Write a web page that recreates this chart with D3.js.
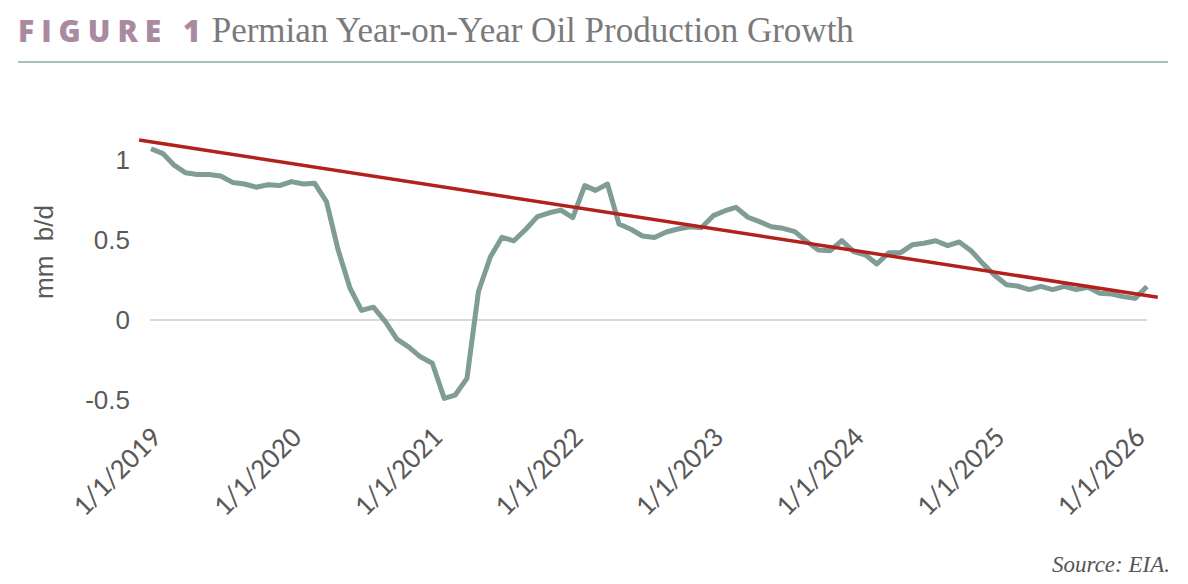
<!DOCTYPE html>
<html>
<head>
<meta charset="utf-8">
<script src="https://cdn.jsdelivr.net/npm/d3@7"></script>
<style>
  body { margin: 0; background: #fff; }
  svg { display: block; }
</style>
</head>
<body>
<div id="chart"></div>
<script>
// monthly, Jan 2019 .. Feb 2026 (mm b/d, year-on-year change)
const startMonth = [2019, 0]
const growth = [
  1.07, 1.04, 0.97, 0.92, 0.91, 0.91, 0.90, 0.86, 0.85, 0.83, 0.845, 0.84,
  0.865, 0.85, 0.855, 0.74, 0.44, 0.20, 0.06, 0.08, -0.01, -0.12, -0.17, -0.23,
  -0.27, -0.49, -0.47, -0.365, 0.18, 0.395, 0.517, 0.495, 0.567, 0.646, 0.67, 0.687,
  0.64, 0.84, 0.81, 0.85, 0.60, 0.567, 0.525, 0.515, 0.55, 0.569, 0.583, 0.577,
  0.652, 0.683, 0.704, 0.642, 0.615, 0.583, 0.573, 0.552, 0.49, 0.4375, 0.433, 0.496,
  0.427, 0.406, 0.35, 0.42, 0.42, 0.47, 0.48, 0.495, 0.465, 0.4875, 0.433, 0.354,
  0.28, 0.22, 0.2125, 0.19, 0.21, 0.19, 0.21, 0.19, 0.205, 0.167, 0.1625, 0.146,
  0.135, 0.21
]
// linear trend line end points
const trendDates = ["2018-12-01", "2026-03-01"]
const trendValues = [1.125, 0.142]

const yTicks = [-0.5, 0, 0.5, 1]
const xTickYears = [2019, 2020, 2021, 2022, 2023, 2024, 2025, 2026]

const width = 1188
const height = 584

const data = growth.map((v, i) => ({
  date: new Date(Date.UTC(startMonth[0], startMonth[1] + i, 1)),
  value: v
}))
const trend = trendDates.map((d, i) => ({ date: new Date(d + "T00:00:00Z"), value: trendValues[i] }))

const svg = d3.select("#chart")
  .append("svg")
  .attr("width", width)
  .attr("height", height)

// title
const title = svg.append("text")
  .attr("x", 18)
  .attr("y", 42)
title.append("tspan")
  .text("FIGURE 1")
  .style("font-family", "'Open Sans', sans-serif")
  .style("font-weight", 800)
  .style("font-size", "30px")
  .style("letter-spacing", "7px")
  .style("fill", "#a98ba1")
title.append("tspan")
  .attr("dx", 4)
  .text("Permian Year-on-Year Oil Production Growth")
  .style("font-family", "'Liberation Serif', serif")
  .style("font-size", "35px")
  .style("fill", "#7a7a7a")

svg.append("line")
  .attr("x1", 18).attr("x2", 1168)
  .attr("y1", 62).attr("y2", 62)
  .attr("stroke", "#8aaba8")
  .attr("stroke-width", 1.5)

// scales
const x = d3.scaleUtc()
  .domain([data[0].date, data[data.length - 1].date])
  .range([151, 1147])

const y = d3.scaleLinear()
  .domain([-0.5, 1])
  .range([400, 160])

// zero line
svg.append("line")
  .attr("x1", x.range()[0] - 1).attr("x2", x.range()[1])
  .attr("y1", y(0)).attr("y2", y(0))
  .attr("stroke", "#d9d9d9")
  .attr("stroke-width", 2)

// y axis labels
const yAxis = svg.append("g")
  .attr("transform", "translate(130,0)")
  .call(d3.axisLeft(y).tickValues(yTicks).tickSize(0).tickPadding(0)
    .tickFormat(d => String(d)))
yAxis.select(".domain").remove()
yAxis.selectAll("text")
  .style("font-family", "'Liberation Sans', Arial, sans-serif")
  .style("font-size", "26px")
  .style("fill", "#595959")

svg.append("text")
  .attr("transform", "translate(53,252) rotate(-90)")
  .attr("text-anchor", "middle")
  .style("font-family", "'Liberation Sans', Arial, sans-serif")
  .style("font-size", "26px")
  .style("fill", "#595959")
  .style("white-space", "pre")
  .text("mm  b/d")

// x axis labels
const xAxis = svg.append("g")
  .attr("transform", "translate(0,432)")
  .call(d3.axisBottom(x)
    .tickValues(xTickYears.map(yr => new Date(Date.UTC(yr, 0, 1))))
    .tickSize(0)
    .tickFormat(d => "1/1/" + d.getUTCFullYear()))
xAxis.select(".domain").remove()
xAxis.selectAll("text")
  .attr("text-anchor", "end")
  .attr("y", 0)
  .attr("dy", "0.35em")
  .attr("transform", "translate(4,0) rotate(-45)")
  .style("font-family", "Carlito, Lato, sans-serif")
  .style("font-size", "29px")
  .style("fill", "#595959")

// series
const line = d3.line()
  .x(d => x(d.date))
  .y(d => y(d.value))

svg.append("path")
  .datum(data)
  .attr("d", line)
  .attr("fill", "none")
  .attr("stroke", "#7f9c96")
  .attr("stroke-width", 5)
  .attr("stroke-linejoin", "round")

svg.append("path")
  .datum(trend)
  .attr("d", line)
  .attr("fill", "none")
  .attr("stroke", "#b3211c")
  .attr("stroke-width", 3.5)

// source note
svg.append("text")
  .attr("x", 1170)
  .attr("y", 572)
  .attr("text-anchor", "end")
  .style("font-family", "'Liberation Serif', serif")
  .style("font-style", "italic")
  .style("font-size", "23px")
  .style("fill", "#555")
  .text("Source: EIA.")
</script>
</body>
</html>
